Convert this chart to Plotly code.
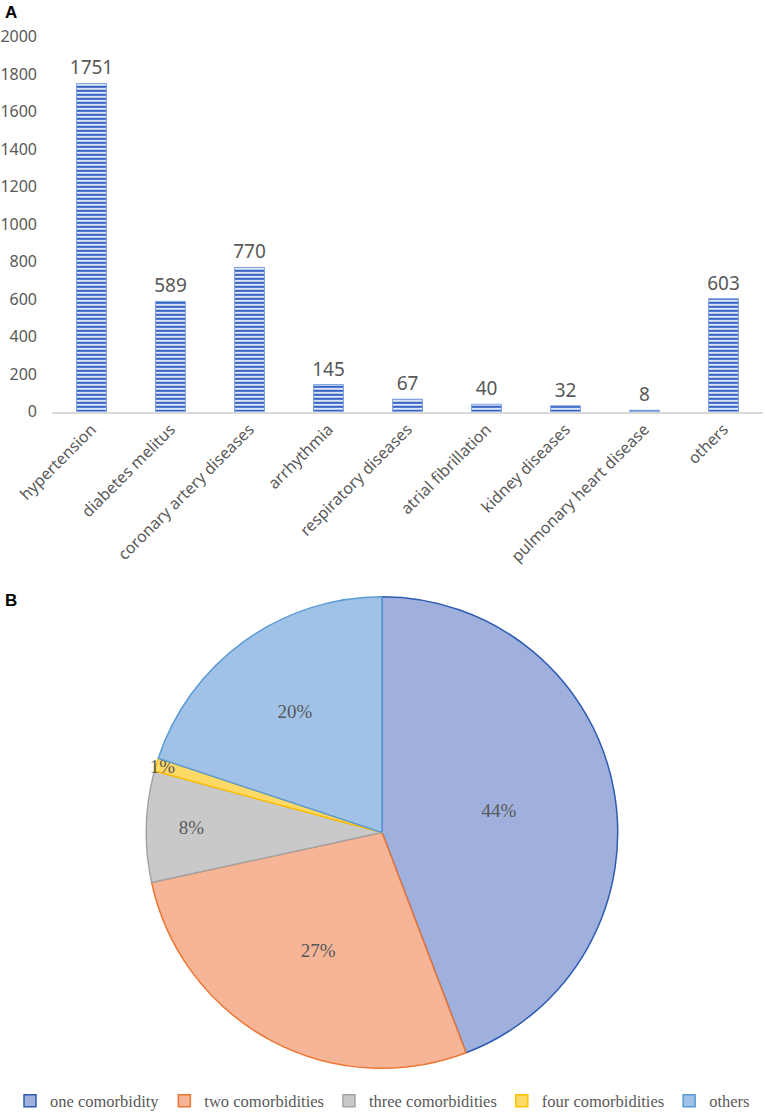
import plotly.graph_objects as go

# panel A: comorbidity counts
diseases = [
    "hypertension", "diabetes melitus", "coronary artery diseases", "arrhythmia",
    "respiratory diseases", "atrial fibrillation", "kidney diseases",
    "pulmonary heart disease", "others",
]
patients = [1751, 589, 770, 145, 67, 40, 32, 8, 603]
y_ticks = [0, 200, 400, 600, 800, 1000, 1200, 1400, 1600, 1800, 2000]

# panel B: number of comorbidities (percent of patients)
groups = ["one comorbidity", "two comorbidities", "three comorbidities",
          "four comorbidities", "others"]
shares = [44.2, 27.4, 7.6, 0.9, 19.9]

grey = "#595959"
sans = "Noto Sans"
serif = "Liberation Serif"

W, H = 765, 1119


def px(x):
    return x / W


def py(y):
    return 1 - y / H


fig = go.Figure()

fig.add_trace(go.Bar(
    x=diseases,
    y=patients,
    text=patients,
    textposition="outside",
    textfont=dict(family=sans, size=16, color=grey),
    cliponaxis=False,
    width=0.38,
    marker=dict(
        color="#dde6f7",
        line=dict(color="#7fa3e0", width=1),
        pattern=dict(shape="-", fgcolor="#3563c3", bgcolor="#dde6f7",
                     size=4, solidity=0.5, fillmode="replace"),
    ),
    showlegend=False,
    xaxis="x", yaxis="y",
))

fig.add_trace(go.Pie(
    labels=groups,
    values=shares,
    sort=False,
    direction="clockwise",
    rotation=0,
    texttemplate="%{percent:.0%}",
    textposition="inside",
    insidetextorientation="horizontal",
    textfont=dict(family=serif, size=19, color=grey),
    marker=dict(
        colors=["#9fb0dc", "#f6b597", "#c9c9c9", "#ffd966", "#a0c2e7"],
        line=dict(color=["#2f5cb3", "#ee7634", "#a5a5a5", "#ffc000", "#5b9bd5"],
                  width=1.5),
    ),
    domain=dict(x=[px(145), px(619)], y=[py(1074), py(600)]),
))

fig.update_layout(
    width=W,
    height=H,
    margin=dict(l=0, r=0, t=0, b=0),
    paper_bgcolor="white",
    plot_bgcolor="white",
    uniformtext=dict(minsize=19, mode="show"),
    xaxis=dict(
        domain=[px(52), px(763)],
        anchor="y",
        automargin=False,
        tickangle=-45,
        tickfont=dict(family=sans, size=16, color=grey),
        showline=True, linecolor="#d9d9d9", linewidth=2,
        showgrid=False, ticks="",
    ),
    yaxis=dict(
        domain=[py(414), py(37)],
        anchor="x",
        automargin=False,
        range=[0, 2000],
        tickvals=y_ticks,
        tickfont=dict(family=sans, size=16, color=grey),
        showgrid=False, zeroline=False, showline=False,
        ticklabelstandoff=14,
    ),
    legend=dict(
        orientation="h",
        x=0.5, xanchor="center",
        y=py(1107), yanchor="middle",
        font=dict(family=serif, size=16.5, color=grey),
        itemwidth=30,
        tracegroupgap=0,
    ),
    annotations=[
        dict(text="<b>A</b>", x=px(3), y=py(13), xref="paper", yref="paper",
             xanchor="left", yanchor="middle", showarrow=False,
             font=dict(family="Liberation Sans", size=17, color="black")),
        dict(text="<b>B</b>", x=px(3), y=py(604), xref="paper", yref="paper",
             xanchor="left", yanchor="middle", showarrow=False,
             font=dict(family="Liberation Sans", size=17, color="black")),
    ],
)

# drop the browser's default body margin so the figure fills the window
fig.write_html("out.html", config={"displayModeBar": False},
               post_script="document.body.style.margin = '0';")
